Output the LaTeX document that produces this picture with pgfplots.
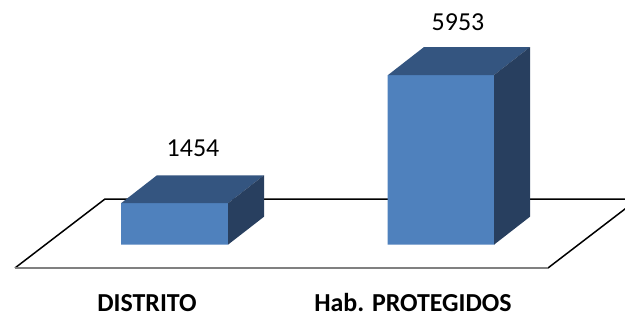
\documentclass[border=0pt]{standalone}
\usepackage{pgfplots}
\pgfplotsset{compat=1.18}
\usepackage{fontspec}
\setmainfont{Carlito}
\definecolor{frontc}{HTML}{4F81BD}
\definecolor{topc}{HTML}{345580}
\definecolor{sidec}{HTML}{283F5F}
\begin{document}
\begin{tikzpicture}
\begin{axis}[
  scale only axis, width=625bp, height=317bp,
  xmin=0, xmax=625, ymin=-2537, ymax=8586,
  axis lines=none, clip=true,
]
% floor
\addplot[fill=white, draw=none] coordinates {(15,-817) (548,-817) (638,1603) (105,1603)} -- cycle;
\addplot[black, line width=1.5bp] coordinates {(15,-817) (105,1603) (638,1603)};
\addplot[black, line width=1.5bp] coordinates {(548,-817) (638,1603)};
\addplot[gray, line width=2.4bp] coordinates {(15,-817) (548,-817)};
% bars: front faces from the data
\addplot[ybar, bar width=107, bar shift=0pt, fill=frontc, draw=none] coordinates {(174.5,1454) (441,5953)};
% DISTRITO 3D faces
\addplot[fill=topc, draw=none] coordinates {(121,1454) (228,1454) (264,2436) (157,2436)} -- cycle;
\addplot[fill=sidec, draw=none] coordinates {(228,0) (264,982) (264,2436) (228,1454)} -- cycle;
% Hab. PROTEGIDOS 3D faces
\addplot[fill=topc, draw=none] coordinates {(388,5953) (494,5953) (530,6935) (424,6935)} -- cycle;
\addplot[fill=sidec, draw=none] coordinates {(494,0) (530,982) (530,6935) (494,5953)} -- cycle;
% labels
\node[font=\fontsize{26}{30}\selectfont] at (axis cs:193,3393) {1454};
\node[font=\fontsize{26}{30}\selectfont] at (axis cs:458,7814) {5953};
\node[inner sep=0pt, font=\fontsize{26}{30}\selectfont\bfseries] at (axis cs:147,-2040) {DISTRITO};
\node[inner sep=0pt, font=\fontsize{26}{30}\selectfont\bfseries] at (axis cs:413,-2040) {Hab. PROTEGIDOS};
\end{axis}
\pgfresetboundingbox
\path[use as bounding box] (current axis.south west) rectangle (current axis.north east);
\end{tikzpicture}
\end{document}
